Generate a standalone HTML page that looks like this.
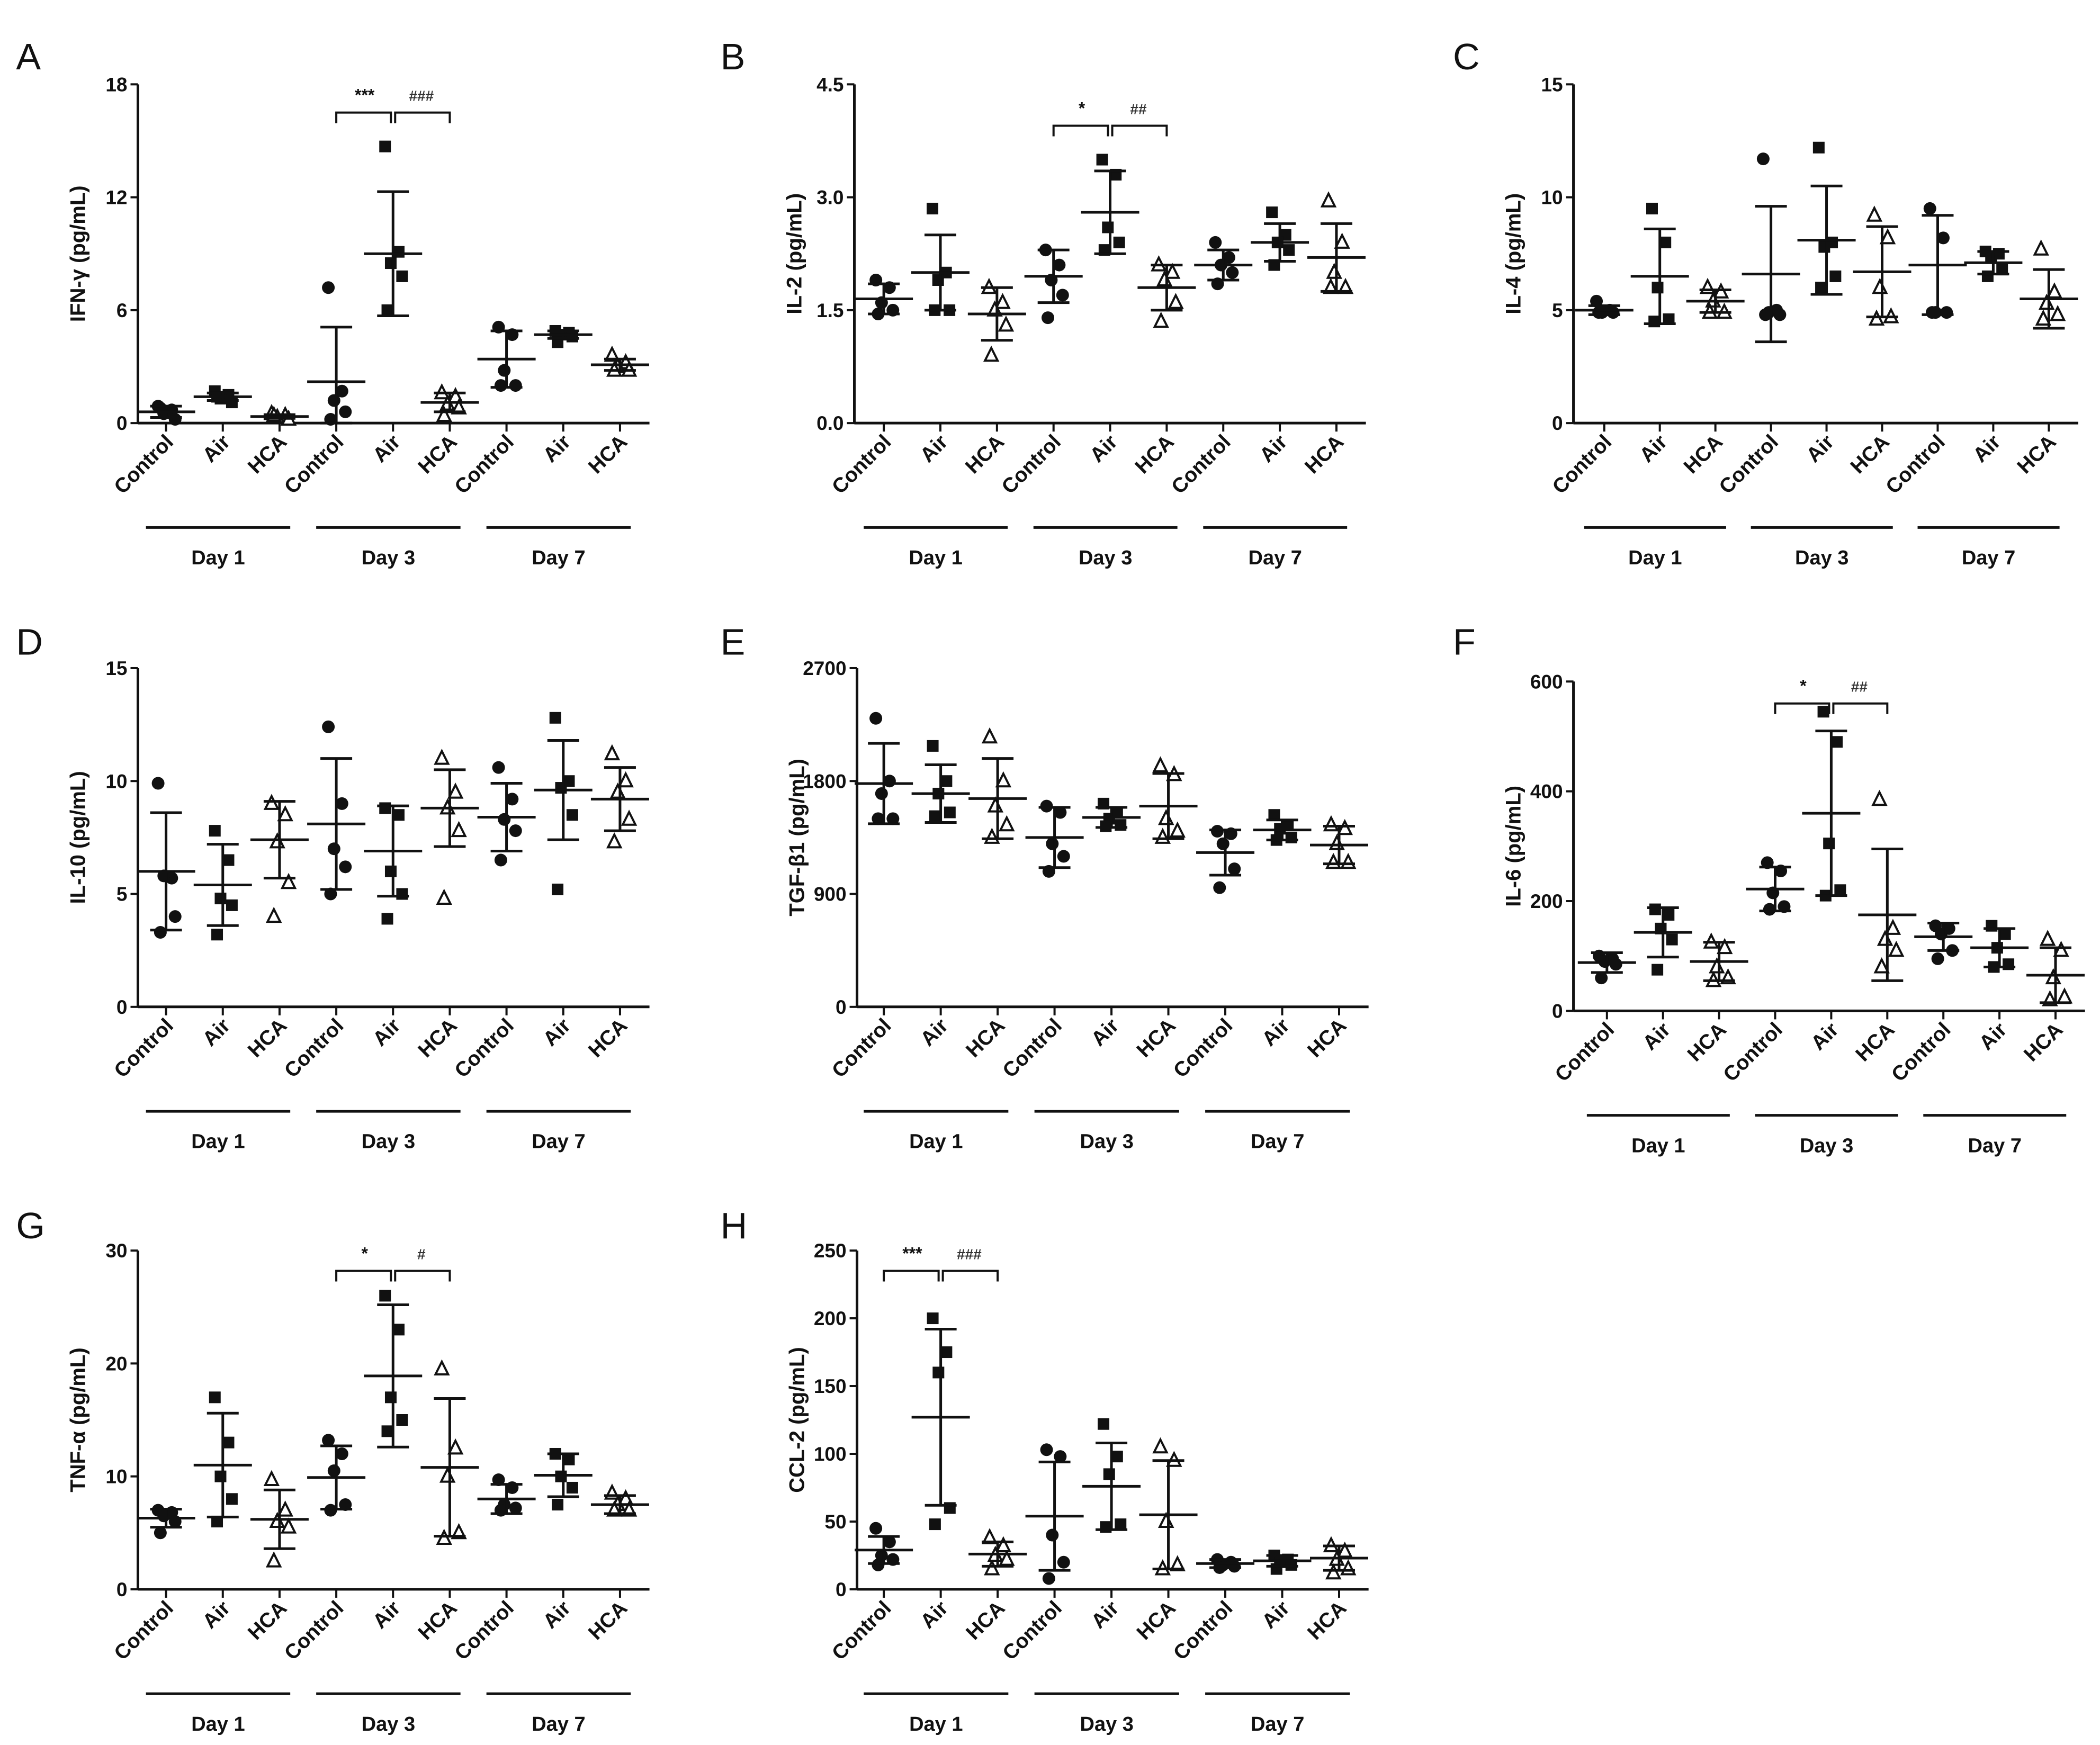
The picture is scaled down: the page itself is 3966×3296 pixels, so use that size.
<!DOCTYPE html>
<html><head><meta charset="utf-8">
<style>
html,body{margin:0;padding:0;background:#fff;}
svg{display:block;font-family:"Liberation Sans",Arial,sans-serif;}
</style></head>
<body>
<svg id="fig" width="3966" height="3296" viewBox="0 0 3966 3296" xmlns="http://www.w3.org/2000/svg"></svg>
<script>
const S = 2.529;
const groupLabels = ["Control","Air","HCA","Control","Air","HCA","Control","Air","HCA"];
const dayLabels = ["Day 1","Day 3","Day 7"];
const markerTypes = ["circle","square","triangle"];

// Panel A IFN-γ
const aPoints = [[0.9,0.7,0.5,0.2,0.8],[1.7,1.5,1.3,1.1,1.4],[0.5,0.4,0.3,0.2,0.4],[7.2,1.7,1.2,0.6,0.2],[14.7,9.1,8.5,7.8,6.0],[1.6,1.4,1.0,0.8,0.4],[5.1,4.7,2.8,2.0,2.0],[4.9,4.8,4.7,4.6,4.3],[3.6,3.2,3.0,2.8,2.8]];
const aMeans = [0.6,1.4,0.35,2.2,9.0,1.1,3.4,4.7,3.1];
const aSD = [0.3,0.2,0.1,2.9,3.3,0.5,1.5,0.2,0.3];
const aTicks = [0,6,12,18];
// Panel B IL-2
const bPoints = [[1.9,1.8,1.6,1.5,1.45],[2.85,2.0,1.9,1.5,1.5],[1.8,1.6,1.5,1.3,0.9],[2.3,2.1,1.9,1.7,1.4],[3.5,3.3,2.6,2.4,2.3],[2.1,2.0,1.9,1.6,1.35],[2.4,2.2,2.1,2.0,1.85],[2.8,2.5,2.4,2.3,2.1],[2.95,2.4,2.0,1.8,1.8]];
const bMeans = [1.65,2.0,1.45,1.95,2.8,1.8,2.1,2.4,2.2];
const bSD = [0.2,0.5,0.35,0.35,0.55,0.3,0.2,0.25,0.45];
const bTicks = [0,1.5,3.0,4.5];
const bTickText = ["0.0","1.5","3.0","4.5"];
// Panel C IL-4
const cPoints = [[5.4,5.0,4.9,4.9,4.9],[9.5,8.0,6.0,4.6,4.5],[6.0,5.8,5.4,4.9,4.9],[11.7,5.0,4.9,4.8,4.8],[12.2,8.0,7.8,6.5,6.0],[9.2,8.2,6.0,4.7,4.6],[9.5,8.2,4.9,4.9,4.9],[7.6,7.5,7.4,6.8,6.5],[7.7,5.8,5.3,4.8,4.6]];
const cMeans = [5.0,6.5,5.4,6.6,8.1,6.7,7.0,7.1,5.5];
const cSD = [0.2,2.1,0.5,3.0,2.4,2.0,2.2,0.5,1.3];
const cTicks = [0,5,10,15];
// Panel D IL-10
const dPoints = [[9.9,5.7,5.8,4.0,3.3],[7.8,6.5,4.8,4.5,3.2],[9.0,8.5,7.3,5.5,4.0],[12.4,9.0,7.0,6.2,5.0],[8.8,8.5,6.0,5.0,3.9],[11.0,9.5,8.8,7.8,4.8],[10.6,9.2,8.3,7.8,6.5],[12.8,10.0,9.7,8.5,5.2],[11.2,10.0,9.5,8.3,7.3]];
const dMeans = [6.0,5.4,7.4,8.1,6.9,8.8,8.4,9.6,9.2];
const dSD = [2.6,1.8,1.7,2.9,2.0,1.7,1.5,2.2,1.4];
const dTicks = [0,5,10,15];
// Panel E TGF-β1
const ePoints = [[2300,1800,1700,1500,1500],[2080,1800,1700,1550,1520],[2150,1800,1600,1450,1350],[1600,1550,1300,1200,1080],[1620,1550,1500,1450,1440],[1920,1850,1500,1400,1350],[1400,1380,1300,1100,950],[1530,1450,1420,1350,1330],[1450,1420,1300,1150,1150]];
const eMeans = [1780,1700,1660,1350,1510,1600,1230,1410,1290];
const eSD = [320,230,320,240,80,260,180,80,150];
const eTicks = [0,900,1800,2700];
// Panel F IL-6
const fPoints = [[100,95,90,85,60],[185,175,150,130,75],[125,115,80,60,55],[270,255,215,190,185],[545,490,305,220,210],[385,150,130,110,80],[155,150,140,110,95],[155,140,115,85,80],[130,110,60,25,20]];
const fMeans = [88,143,90,222,360,175,135,115,65];
const fSD = [18,45,35,40,150,120,25,35,50];
const fTicks = [0,200,400,600];
// Panel G TNF-α
const gPoints = [[7.0,6.8,6.5,6.0,5.0],[17.0,13.0,10.0,8.0,6.0],[9.7,7.0,6.0,5.5,2.5],[13.2,12.0,10.5,7.5,7.0],[26.0,23.0,17.0,15.0,14.0],[19.5,12.5,10.0,5.0,4.5],[9.7,9.0,7.5,7.2,7.0],[12.0,11.5,10.0,9.0,7.5],[8.5,8.0,7.5,7.0,7.0]];
const gMeans = [6.3,11,6.2,9.9,18.9,10.8,8.0,10.1,7.5];
const gSD = [0.8,4.6,2.6,2.8,6.3,6.1,1.3,1.9,0.8];
const gTicks = [0,10,20,30];
// Panel H CCL-2
const hPoints = [[45,35,25,22,18],[200,175,160,60,48],[38,32,25,22,15],[103,98,40,20,8],[122,98,85,48,46],[105,95,50,18,15],[22,20,18,17,16],[25,22,20,18,15],[32,28,22,15,12]];
const hMeans = [29,127,26,54,76,55,19,21,23];
const hSD = [10,65,9,40,32,40,3,4,9];
const hTicks = [0,50,100,150,200,250];

const panels = [
 {id:"a",letter:"A",title:"IFN-γ (pg/mL)",pts:aPoints,means:aMeans,sd:aSD,ticks:aTicks,ax:103,top:63,bot:316,c0:124,c8:463,lx:12,ly:40,sig:{g:3,y:16.5,l:"***",r:"###"}},
 {id:"b",letter:"B",title:"IL-2 (pg/mL)",pts:bPoints,means:bMeans,sd:bSD,ticks:bTicks,tickText:bTickText,ax:638,top:63,bot:316,c0:660,c8:998,lx:538,ly:40,sig:{g:3,y:3.95,l:"*",r:"##"}},
 {id:"c",letter:"C",title:"IL-4 (pg/mL)",pts:cPoints,means:cMeans,sd:cSD,ticks:cTicks,ax:1175,top:63,bot:316,c0:1198,c8:1530,lx:1085,ly:40},
 {id:"d",letter:"D",title:"IL-10 (pg/mL)",pts:dPoints,means:dMeans,sd:dSD,ticks:dTicks,ax:103,top:499,bot:752,c0:124,c8:463,lx:12,ly:477},
 {id:"e",letter:"E",title:"TGF-β1 (pg/mL)",pts:ePoints,means:eMeans,sd:eSD,ticks:eTicks,ax:640,top:499,bot:752,c0:660,c8:1000,lx:538,ly:477},
 {id:"f",letter:"F",title:"IL-6 (pg/mL)",pts:fPoints,means:fMeans,sd:fSD,ticks:fTicks,ax:1175,top:509,bot:755,c0:1200,c8:1535,lx:1085,ly:477,sig:{g:3,y:560,l:"*",r:"##"}},
 {id:"g",letter:"G",title:"TNF-α (pg/mL)",pts:gPoints,means:gMeans,sd:gSD,ticks:gTicks,ax:103,top:934,bot:1187,c0:124,c8:463,lx:12,ly:913,sig:{g:3,y:28.2,l:"*",r:"#"}},
 {id:"h",letter:"H",title:"CCL-2 (pg/mL)",pts:hPoints,means:hMeans,sd:hSD,ticks:hTicks,ax:640,top:934,bot:1187,c0:660,c8:1000,lx:538,ly:913,sig:{g:0,y:235,l:"***",r:"###"}}
];
const jitter = [-0.14,0.1,-0.04,0.16,-0.1];

const NS = "http://www.w3.org/2000/svg";
const svg = document.getElementById("fig");
function mk(parent, tag, attrs, text){
  const e = document.createElementNS(NS, tag);
  for (const k in attrs) e.setAttribute(k, attrs[k]);
  if (text !== undefined) e.textContent = text;
  parent.appendChild(e);
  return e;
}

panels.forEach(p => {
  const g = mk(svg, "g", {});
  
  
  const ax = p.ax*S, top = p.top*S, bot = p.bot*S;
  const max = p.ticks[p.ticks.length-1];
  const y = v => bot - (v/max)*(bot-top);
  const step = (p.c8-p.c0)/8;
  const x = i => (p.c0 + step*i)*S;
  const right = x(8) + 22*S;

  const L = mk(g, "text", {x:p.lx*S, y:p.ly*S+30, "font-size":70, fill:"#111"}, p.letter);
  
  

  const ya = mk(g, "line", {x1:ax, y1:top, x2:ax, y2:bot, stroke:"#111","stroke-width":5});
  
  
  const xa = mk(g, "line", {x1:ax, y1:bot, x2:right, y2:bot, stroke:"#111","stroke-width":5});
  
  

  p.ticks.forEach((t, k) => {
    const ty = y(t);
    mk(g, "line", {x1:ax-14, y1:ty, x2:ax, y2:ty, stroke:"#111","stroke-width":4});
    const lbl = p.tickText ? p.tickText[k] : String(t);
    const tl = mk(g, "text", {x:ax-20, y:ty+13, "font-size":37, "font-weight":"bold","text-anchor":"end", fill:"#111"}, lbl);
    
    
  });
  const yt = mk(g, "text", {transform:`translate(${ax-100},${(top+bot)/2}) rotate(-90)`, "font-size":40, "font-weight":"bold","text-anchor":"middle", fill:"#111"}, p.title);
  
  

  groupLabels.forEach((lab, i) => {
    const cx = x(i);
    mk(g, "line", {x1:cx, y1:bot, x2:cx, y2:bot+16, stroke:"#111","stroke-width":4});
    const t = mk(g, "text", {transform:`translate(${cx+16},${bot+38}) rotate(-45)`, "font-size":39, "font-weight":"bold","text-anchor":"end", fill:"#111"}, lab);
    
    
  });
  dayLabels.forEach((d, k) => {
    const x1 = x(3*k) - 15*S, x2 = x(3*k+2) + 8*S;
    const ln = mk(g, "line", {x1:x1, y1:bot+78*S, x2:x2, y2:bot+78*S, stroke:"#111","stroke-width":5});
    
    
    const dt = mk(g, "text", {x:(x1+x2)/2, y:bot+100*S+14, "font-size":38, "font-weight":"bold","text-anchor":"middle", fill:"#111"}, d);
    
    
  });

  p.pts.forEach((arr, i) => {
    const cx = x(i);
    const type = markerTypes[i%3];
    arr.forEach((v, j) => {
      const px = cx + jitter[j]*step*S, py = y(v);
      let m;
      if (type === "circle") m = mk(g, "circle", {cx:px, cy:py, r:12, fill:"#111"});
      else if (type === "square") m = mk(g, "rect", {x:px-11, y:py-11, width:22, height:22, fill:"#111"});
      else m = mk(g, "polygon", {points:`${px},${py-14} ${px-12},${py+10} ${px+12},${py+10}`, fill:"#fff", stroke:"#111","stroke-width":4});
      
      
    });
    const mu = p.means[i], sd = p.sd[i];
    const lo = Math.max(0, mu-sd), hi = mu+sd;
    const eb = mk(g, "path", {d:`M${cx},${y(lo)}V${y(hi)}M${cx-30},${y(hi)}H${cx+30}M${cx-30},${y(lo)}H${cx+30}`, stroke:"#111","stroke-width":5, fill:"none"});
    
    
    const ml = mk(g, "line", {x1:cx-55, y1:y(mu), x2:cx+55, y2:y(mu), stroke:"#111","stroke-width":5});
    
    
  });

  if (p.sig) {
    const a = x(p.sig.g), b = x(p.sig.g+1), c = x(p.sig.g+2), by = y(p.sig.y), h = 20;
    const br = mk(g, "path", {d:`M${a},${by+h}V${by}H${b-4}V${by+h}M${b+4},${by+h}V${by}H${c}V${by+h}`, stroke:"#111","stroke-width":4, fill:"none"});
    
    
    const s1 = mk(g, "text", {x:(a+b)/2, y:by-22, "font-size":32, "font-weight":"bold","text-anchor":"middle", fill:"#111"}, p.sig.l);
    
    
    const s2 = mk(g, "text", {x:(b+c)/2, y:by-22, "font-size":28, "font-weight":"bold","text-anchor":"middle", fill:"#333"}, p.sig.r);
    
    
  }
});
</script>
</body></html>
